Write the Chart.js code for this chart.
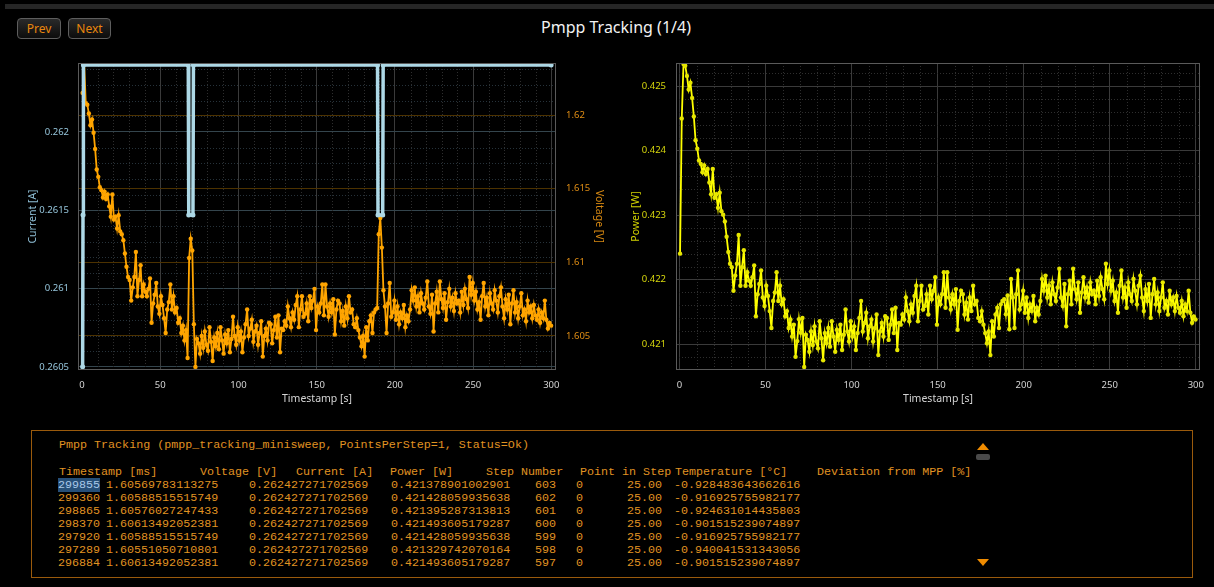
<!DOCTYPE html>
<html>
<head>
<meta charset="utf-8">
<title>Pmpp Tracking</title>
<script src="https://cdn.jsdelivr.net/npm/chart.js@4.4.0/dist/chart.umd.min.js"></script>
<style>
  html, body { margin: 0; padding: 0; background: #000; }
  body { width: 1214px; height: 587px; position: relative; overflow: hidden;
         font-family: "Segoe UI", "Noto Sans", "Open Sans", sans-serif; }
  .strip { position: absolute; left: 5px; top: 4px; width: 1209px; height: 5px; background: #262626; }
  .btn { position: absolute; top: 18px; height: 19px; border: 1px solid #5e5e5e; border-radius: 4px;
         background: linear-gradient(#2a2a2a, #0c0c0c); color: #e8870e; font-size: 12px;
         line-height: 19px; text-align: center; box-sizing: content-box; }
  #prev { left: 17px; width: 42px; }
  #next { left: 68px; width: 41px; }
  .title { position: absolute; left: 416px; width: 400px; top: 16px; text-align: center;
           color: #f2f2f2; font-size: 16px; line-height: 22px; }
  canvas { position: absolute; }
  #ivChart { left: 0; top: 50px; }
  #pChart { left: 620px; top: 50px; }
  .panel { position: absolute; left: 31px; top: 430px; width: 1160px; height: 146px;
           border: 1px solid #9a5a0c; }
  .t { position: absolute; white-space: pre; font-family: "Liberation Mono", "DejaVu Sans Mono", monospace;
       color: #e09322; font-size: 11.7px; line-height: 13px; }
  .sel { background: #264f78; color: #a8c8e8; }
  .up { position: absolute; left: 977px; top: 443px; width: 0; height: 0;
        border-left: 6px solid transparent; border-right: 6px solid transparent; border-bottom: 7px solid #f08c00; }
  .thumb { position: absolute; left: 976px; top: 454px; width: 14px; height: 6px; background: #4a4a4a; border-radius: 2px; }
  .down { position: absolute; left: 977px; top: 559px; width: 0; height: 0;
          border-left: 6px solid transparent; border-right: 6px solid transparent; border-top: 7px solid #f08c00; }
</style>
</head>
<body>
<div class="strip"></div>
<div class="btn" id="prev">Prev</div>
<div class="btn" id="next">Next</div>
<div class="title">Pmpp Tracking (1/4)</div>

<canvas id="ivChart" width="620" height="360"></canvas>
<canvas id="pChart" width="594" height="360"></canvas>

<div class="panel"></div>
<div class="up"></div>
<div class="thumb"></div>
<div class="down"></div>
<div id="log"></div>

<script>
// ---- measurement data -------------------------------------------------------
// Samples are taken at a regular interval between the first and last timestamp [s].
const firstTimestamp = 0.35;
const lastTimestamp = 299.855;

// Voltage [V] per sample
const voltage = [
  1.6215, 1.6235, 1.6208, 1.6207, 1.6201, 1.6193, 1.6197, 1.6188, 1.6177, 1.6163,
  1.6158, 1.6151, 1.6149, 1.6144, 1.6148, 1.6143, 1.6146, 1.6138, 1.6131, 1.6146,
  1.6129, 1.6131, 1.6123, 1.6132, 1.6121, 1.6119, 1.6115, 1.6106, 1.6097, 1.6090,
  1.6088, 1.6074, 1.6083, 1.6090, 1.6107, 1.6077, 1.6088, 1.6098, 1.6077, 1.6085,
  1.6080, 1.6077, 1.6082, 1.6089, 1.6059, 1.6072, 1.6078, 1.6086, 1.6070, 1.6065,
  1.6077, 1.6071, 1.6062, 1.6052, 1.6068, 1.6073, 1.6085, 1.6068, 1.6077, 1.6066,
  1.6069, 1.6059, 1.6062, 1.6052, 1.6057, 1.6047, 1.6054, 1.6035, 1.6103, 1.6116,
  1.6108, 1.6058, 1.6029, 1.6048, 1.6045, 1.6038, 1.6050, 1.6042, 1.6053, 1.6044,
  1.6040, 1.6056, 1.6046, 1.6033, 1.6049, 1.6043, 1.6052, 1.6041, 1.6056, 1.6047,
  1.6038, 1.6051, 1.6045, 1.6054, 1.6039, 1.6048, 1.6063, 1.6050, 1.6044, 1.6056,
  1.6047, 1.6053, 1.6039, 1.6049, 1.6058, 1.6068, 1.6050, 1.6055, 1.6061, 1.6046,
  1.6053, 1.6057, 1.6044, 1.6052, 1.6060, 1.6036, 1.6050, 1.6055, 1.6047, 1.6059,
  1.6058, 1.6045, 1.6054, 1.6063, 1.6049, 1.6064, 1.6039, 1.6055, 1.6054, 1.6060,
  1.6057, 1.6070, 1.6062, 1.6056, 1.6066, 1.6061, 1.6071, 1.6077, 1.6056, 1.6068,
  1.6077, 1.6063, 1.6065, 1.6072, 1.6060, 1.6077, 1.6069, 1.6074, 1.6082, 1.6054,
  1.6070, 1.6066, 1.6072, 1.6085, 1.6064, 1.6085, 1.6070, 1.6063, 1.6072, 1.6066,
  1.6075, 1.6051, 1.6068, 1.6074, 1.6072, 1.6060, 1.6067, 1.6057, 1.6070, 1.6062,
  1.6077, 1.6066, 1.6068, 1.6058, 1.6056, 1.6062, 1.6054, 1.6049, 1.6043, 1.6050,
  1.6036, 1.6056, 1.6047, 1.6060, 1.6064, 1.6052, 1.6066, 1.6068, 1.6069, 1.6119,
  1.6130, 1.6110, 1.6081, 1.6070, 1.6052, 1.6072, 1.6086, 1.6063, 1.6066, 1.6074,
  1.6061, 1.6070, 1.6058, 1.6066, 1.6062, 1.6071, 1.6056, 1.6064, 1.6060, 1.6068,
  1.6081, 1.6074, 1.6083, 1.6070, 1.6077, 1.6066, 1.6079, 1.6072, 1.6068, 1.6076,
  1.6087, 1.6070, 1.6065, 1.6078, 1.6053, 1.6072, 1.6080, 1.6066, 1.6087, 1.6075,
  1.6069, 1.6079, 1.6061, 1.6073, 1.6082, 1.6070, 1.6076, 1.6067, 1.6079, 1.6072,
  1.6074, 1.6066, 1.6080, 1.6071, 1.6082, 1.6075, 1.6069, 1.6090, 1.6078, 1.6086,
  1.6074, 1.6080, 1.6068, 1.6073, 1.6061, 1.6077, 1.6086, 1.6070, 1.6076, 1.6064,
  1.6079, 1.6072, 1.6068, 1.6081, 1.6074, 1.6066, 1.6077, 1.6083, 1.6070, 1.6062,
  1.6075, 1.6068, 1.6078, 1.6058, 1.6072, 1.6081, 1.6066, 1.6073, 1.6062, 1.6070,
  1.6079, 1.6064, 1.6068, 1.6060, 1.6074, 1.6066, 1.6070, 1.6062, 1.6071, 1.6064,
  1.6061, 1.6068, 1.6059, 1.6066, 1.6062, 1.6074, 1.6061, 1.60551, 1.60589, 1.60570
];

// Power [W] per sample
const power = [
  0.422401, 0.424497, 0.425341, 0.425315, 0.425157, 0.424947, 0.425052, 0.424816, 0.424528, 0.424160,
  0.424029, 0.423845, 0.423793, 0.423662, 0.423767, 0.423635, 0.423714, 0.423504, 0.423321, 0.423714,
  0.423268, 0.423321, 0.423111, 0.423347, 0.423058, 0.423006, 0.422901, 0.422664, 0.422428, 0.422245,
  0.422192, 0.421825, 0.422061, 0.422245, 0.422691, 0.421904, 0.422192, 0.422455, 0.421904, 0.422114,
  0.421982, 0.421904, 0.422035, 0.422219, 0.421431, 0.421772, 0.421930, 0.422140, 0.421720, 0.421589,
  0.421904, 0.421746, 0.421510, 0.421248, 0.421667, 0.421799, 0.422114, 0.421667, 0.421904, 0.421615,
  0.421694, 0.421431, 0.421510, 0.421248, 0.421379, 0.421116, 0.421300, 0.420801, 0.421045, 0.421385,
  0.421176, 0.421405, 0.420644, 0.421143, 0.421064, 0.420880, 0.421195, 0.420985, 0.421274, 0.421038,
  0.420933, 0.421353, 0.421090, 0.420749, 0.421169, 0.421011, 0.421248, 0.420959, 0.421353, 0.421116,
  0.420880, 0.421221, 0.421064, 0.421300, 0.420906, 0.421143, 0.421536, 0.421195, 0.421038, 0.421353,
  0.421116, 0.421274, 0.420906, 0.421169, 0.421405, 0.421667, 0.421195, 0.421326, 0.421484, 0.421090,
  0.421274, 0.421379, 0.421038, 0.421248, 0.421458, 0.420828, 0.421195, 0.421326, 0.421116, 0.421431,
  0.421405, 0.421064, 0.421300, 0.421536, 0.421169, 0.421562, 0.420906, 0.421326, 0.421300, 0.421458,
  0.421379, 0.421720, 0.421510, 0.421353, 0.421615, 0.421484, 0.421746, 0.421904, 0.421353, 0.421667,
  0.421904, 0.421536, 0.421589, 0.421772, 0.421458, 0.421904, 0.421694, 0.421825, 0.422035, 0.421300,
  0.421720, 0.421615, 0.421772, 0.422114, 0.421562, 0.422114, 0.421720, 0.421536, 0.421772, 0.421615,
  0.421851, 0.421221, 0.421667, 0.421825, 0.421772, 0.421458, 0.421641, 0.421379, 0.421720, 0.421510,
  0.421904, 0.421615, 0.421667, 0.421405, 0.421353, 0.421510, 0.421300, 0.421169, 0.421011, 0.421195,
  0.420828, 0.421353, 0.421116, 0.421458, 0.421562, 0.421248, 0.421615, 0.421667, 0.421694, 0.421463,
  0.421751, 0.421228, 0.422009, 0.421720, 0.421248, 0.421772, 0.422140, 0.421536, 0.421615, 0.421825,
  0.421484, 0.421720, 0.421405, 0.421615, 0.421510, 0.421746, 0.421353, 0.421562, 0.421458, 0.421667,
  0.422009, 0.421825, 0.422061, 0.421720, 0.421904, 0.421615, 0.421956, 0.421772, 0.421667, 0.421877,
  0.422166, 0.421720, 0.421589, 0.421930, 0.421274, 0.421772, 0.421982, 0.421615, 0.422166, 0.421851,
  0.421694, 0.421956, 0.421484, 0.421799, 0.422035, 0.421720, 0.421877, 0.421641, 0.421956, 0.421772,
  0.421825, 0.421615, 0.421982, 0.421746, 0.422035, 0.421851, 0.421694, 0.422245, 0.421930, 0.422140,
  0.421825, 0.421982, 0.421667, 0.421799, 0.421484, 0.421904, 0.422140, 0.421720, 0.421877, 0.421562,
  0.421956, 0.421772, 0.421667, 0.422009, 0.421825, 0.421615, 0.421904, 0.422061, 0.421720, 0.421510,
  0.421851, 0.421667, 0.421930, 0.421405, 0.421772, 0.422009, 0.421615, 0.421799, 0.421510, 0.421720,
  0.421956, 0.421562, 0.421667, 0.421458, 0.421825, 0.421615, 0.421720, 0.421510, 0.421746, 0.421562,
  0.421484, 0.421667, 0.421431, 0.421615, 0.421510, 0.421825, 0.421484, 0.421330, 0.421428, 0.421379
];

// Current [A]: readings where the value changes (it holds steady in between)
const currentTimes  = [0.35,   0.6,     0.85,     67.9,     68.2,    70.9,    71.2,     188.9,    189.2,   192.2,   192.5,    299.855];
const currentValues = [0.2605, 0.26147, 0.262427, 0.262427, 0.26147, 0.26147, 0.262427, 0.262427, 0.26147, 0.26147, 0.262427, 0.262427];

// Axis ticks
const timeTicks    = [0, 50, 100, 150, 200, 250, 300];
const currentTicks = [0.2605, 0.261, 0.2615, 0.262];
const voltageTicks = [1.605, 1.61, 1.615, 1.62];
const powerTicks   = [0.421, 0.422, 0.423, 0.424, 0.425];

// Latest log rows: timestamp [ms], voltage, current, power, step, point in step, temperature, deviation
const logRows = [
  ['299855', '1.60569783113275', '0.262427271702569', '0.421378901002901', '603', '0', '25.00', '-0.928483643662616'],
  ['299360', '1.60588515515749', '0.262427271702569', '0.421428059935638', '602', '0', '25.00', '-0.916925755982177'],
  ['298865', '1.60576027247433', '0.262427271702569', '0.421395287313813', '601', '0', '25.00', '-0.924631014435803'],
  ['298370', '1.60613492052381', '0.262427271702569', '0.421493605179287', '600', '0', '25.00', '-0.901515239074897'],
  ['297920', '1.60588515515749', '0.262427271702569', '0.421428059935638', '599', '0', '25.00', '-0.916925755982177'],
  ['297289', '1.60551050710801', '0.262427271702569', '0.421329742070164', '598', '0', '25.00', '-0.940041531343056'],
  ['296884', '1.60613492052381', '0.262427271702569', '0.421493605179287', '597', '0', '25.00', '-0.901515239074897']
];
const logHeading = 'Pmpp Tracking (pmpp_tracking_minisweep, PointsPerStep=1, Status=Ok)';
const logColumns = ['Timestamp [ms]', 'Voltage [V]', 'Current [A]', 'Power [W]', 'Step Number', 'Point in Step', 'Temperature [\u00B0C]', 'Deviation from MPP [%]'];

// ---- log panel ---------------------------------------------------------------
(function buildLog() {
  const host = document.getElementById('log');
  const add = (text, x, y, cls) => {
    const el = document.createElement('div');
    el.className = 't';
    el.style.left = x + 'px';
    el.style.top = y + 'px';
    if (cls) {
      const s = document.createElement('span');
      s.className = cls;
      s.textContent = text;
      el.appendChild(s);
    } else {
      el.textContent = text;
    }
    host.appendChild(el);
  };
  add(logHeading, 59, 439);
  const headX = [59, 200, 296, 390, 486, 580, 675, 817];
  logColumns.forEach((h, i) => add(h, headX[i], 466));
  const colX = [58, 106, 249, 391, 535, 576, 627, 674];
  logRows.forEach((row, r) => {
    row.forEach((cell, c) => add(cell, colX[c], 479 + r * 13, (r === 0 && c === 0) ? 'sel' : null));
  });
})();

// ---- charts ------------------------------------------------------------------
Chart.defaults.font.family = '"Segoe UI", "Noto Sans", "Open Sans", sans-serif';
Chart.defaults.font.size = 9.5;

const step = (lastTimestamp - firstTimestamp) / (voltage.length - 1);
const timeOf = i => firstTimestamp + i * step;
const voltagePoints = voltage.map((v, i) => ({ x: timeOf(i), y: v }));
const powerPoints = power.map((p, i) => ({ x: timeOf(i), y: p }));
const currentPoints = currentTimes.map((t, i) => ({ x: t, y: currentValues[i] }));

const fmt = v => String(+v.toFixed(6));
const fixedTicks = list => scale => { scale.ticks = list.map(v => ({ value: v })); };
// Fixed axis width; label overhang is not reserved so the plot area keeps its size
const fixedWidth = w => scale => { scale.width = w; scale.paddingTop = 0; scale.paddingBottom = 0; };

// Dotted minor grid plus a frame around the plot area
const plotFrame = {
  id: 'plotFrame',
  beforeDatasetsDraw(chart, args, opts) {
    const { ctx, chartArea: a } = chart;
    ctx.save();
    ctx.beginPath();
    ctx.rect(a.left, a.top, a.width, a.height);
    ctx.clip();
    ctx.lineWidth = 1;
    ctx.setLineDash([1, 2]);
    (opts.minor || []).forEach(m => {
      const s = chart.scales[m.axis];
      ctx.strokeStyle = m.color;
      const n = Math.round((m.to - m.from) / m.step);
      for (let k = 0; k <= n; k++) {
        const v = m.from + k * m.step;
        const r = v / m.major;
        if (Math.abs(r - Math.round(r)) < 1e-6) continue;
        const p = Math.round(s.getPixelForValue(v)) + 0.5;
        ctx.beginPath();
        if (s.isHorizontal()) { ctx.moveTo(p, a.top); ctx.lineTo(p, a.bottom); }
        else { ctx.moveTo(a.left, p); ctx.lineTo(a.right, p); }
        ctx.stroke();
      }
    });
    ctx.restore();
  },
  afterDraw(chart, args, opts) {
    const { ctx, chartArea: a } = chart;
    ctx.save();
    ctx.strokeStyle = opts.frameColor || '#5c5c5c';
    ctx.lineWidth = 1;
    ctx.strokeRect(Math.round(a.left) + 0.5, Math.round(a.top) + 0.5,
                   Math.round(a.width) - 1, Math.round(a.height) - 1);
    ctx.restore();
  }
};

const xScale = (min, max) => ({
  type: 'linear', min, max,
  afterBuildTicks: fixedTicks(timeTicks),
  afterFit: s => { s.height = 40; },
  grid: { color: '#3a3a3a', drawTicks: false },
  border: { display: false },
  ticks: { color: '#d4d4d4', padding: 10, maxRotation: 0, autoSkip: false, callback: fmt },
  title: { display: true, text: 'Timestamp [s]', color: '#d4d4d4', font: { size: 10.5 }, padding: { top: 0, bottom: 5 } }
});

new Chart(document.getElementById('ivChart'), {
  type: 'line',
  data: {
    datasets: [
      { label: 'Current [A]', yAxisID: 'yI', data: currentPoints, order: 0,
        borderColor: '#add8e6', backgroundColor: '#add8e6', borderWidth: 3.5,
        pointRadius: 2.5, pointBorderWidth: 0, tension: 0 },
      { label: 'Voltage [V]', yAxisID: 'yV', data: voltagePoints, order: 1,
        borderColor: '#ffa500', backgroundColor: '#ffa500', borderWidth: 1.8,
        pointRadius: 2.2, pointBorderWidth: 0, tension: 0 }
    ]
  },
  options: {
    responsive: false, animation: false,
    layout: { padding: { top: 13, left: 0, right: 0, bottom: 0 } },
    plugins: {
      legend: { display: false }, tooltip: { enabled: false },
      plotFrame: {
        frameColor: '#5a5a5a',
        minor: [
          { axis: 'x', from: 0, to: 300, step: 10, major: 50, color: '#2e2e2e' },
          { axis: 'yI', from: 0.2605, to: 0.2624, step: 0.0001, major: 0.0005, color: '#26323a' }
        ]
      }
    },
    scales: {
      x: xScale(-2.6, 303),
      yI: {
        type: 'linear', position: 'left', min: 0.26048, max: 0.26244,
        afterBuildTicks: fixedTicks(currentTicks),
        afterFit: fixedWidth(78),
        grid: { color: '#34454d', drawTicks: false },
        border: { display: false },
        ticks: { color: '#96c6dc', padding: 9, callback: fmt },
        title: { display: true, text: 'Current [A]', color: '#8fbfd6', font: { size: 10.5 }, padding: { top: 27 } }
      },
      yV: {
        type: 'linear', position: 'right', min: 1.60269, max: 1.62353,
        afterBuildTicks: fixedTicks(voltageTicks),
        afterFit: fixedWidth(64),
        grid: { color: '#4d3200', drawTicks: false, drawOnChartArea: true },
        border: { display: false },
        ticks: { color: '#de8c14', padding: 10, callback: fmt },
        title: { display: true, text: 'Voltage [V]', color: '#d98a12', font: { size: 10.5 }, padding: { top: 15 } }
      }
    }
  },
  plugins: [plotFrame]
});

new Chart(document.getElementById('pChart'), {
  type: 'line',
  data: {
    datasets: [
      { label: 'Power [W]', yAxisID: 'yP', data: powerPoints,
        borderColor: '#ffff00', backgroundColor: '#e6e600', borderWidth: 1.8,
        pointRadius: 2.2, pointBorderWidth: 0, tension: 0 }
    ]
  },
  options: {
    responsive: false, animation: false,
    layout: { padding: { top: 13, left: 0, right: 7, bottom: 0 } },
    plugins: {
      legend: { display: false }, tooltip: { enabled: false },
      plotFrame: {
        frameColor: '#5a5a5a',
        minor: [
          { axis: 'x', from: 0, to: 300, step: 10, major: 50, color: '#2e2e2e' },
          { axis: 'yP', from: 0.4206, to: 0.4252, step: 0.0002, major: 0.001, color: '#2e2e2e' }
        ]
      }
    },
    scales: {
      x: xScale(-2, 302.5),
      yP: {
        type: 'linear', position: 'left', min: 0.420597, max: 0.425357,
        afterBuildTicks: fixedTicks(powerTicks),
        afterFit: fixedWidth(56),
        grid: { color: '#3a3a3a', drawTicks: false },
        border: { display: false },
        ticks: { color: '#d6d60c', padding: 10, callback: fmt },
        title: { display: true, text: 'Power [W]', color: '#d0d000', font: { size: 10.5 }, padding: { top: 10 } }
      }
    }
  },
  plugins: [plotFrame]
});
</script>
</body>
</html>
